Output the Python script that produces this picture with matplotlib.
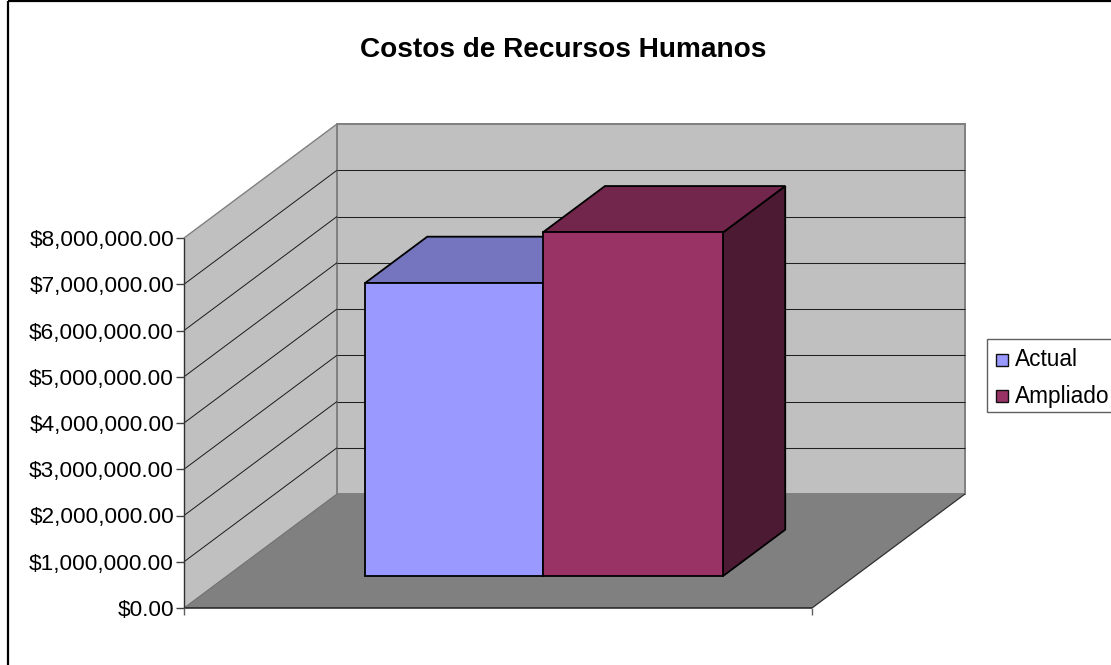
import matplotlib
matplotlib.use("Agg")
import matplotlib.pyplot as plt
from matplotlib.patches import Polygon, Rectangle

TITLE = "Costos de Recursos Humanos"
series_names = ["Actual", "Ampliado"]
series_values = [6335000, 7430000]
series_front = ["#9999FF", "#993366"]
series_top = ["#7575BF", "#72264C"]
series_side = ["#4D4D80", "#4C1A33"]
y_ticks = [0, 1000000, 2000000, 3000000, 4000000, 5000000, 6000000, 7000000, 8000000]
y_max = 8000000

plt.rcParams["font.family"] = ["Liberation Sans", "DejaVu Sans"]
fig = plt.figure(figsize=(11.11, 6.65), dpi=100)
ax = fig.add_axes([0, 0, 1, 1])
ax.set_xlim(0, 1111)
ax.set_ylim(665, 0)
ax.axis("off")

# Oblique projection of the chart box onto the drawing plane
ORIGIN_X, ORIGIN_Y = 184.0, 608.0
BOX_W, BOX_H = 628.0, 370.0
DEPTH_X, DEPTH_Y = 153.0, -114.0


def proj(x, value, depth):
    """x and depth are fractions of the box; value is in dollars."""
    return (ORIGIN_X + x * BOX_W + depth * DEPTH_X,
            ORIGIN_Y - value / y_max * BOX_H + depth * DEPTH_Y)


def face(pts, color, edge=None, lw=0.0, z=1):
    ax.add_patch(Polygon(pts, closed=True, facecolor=color,
                         edgecolor=edge if edge else color, linewidth=lw,
                         joinstyle="miter", zorder=z))


def line(a, b, color, lw, z=3):
    ax.plot([a[0], b[0]], [a[1], b[1]], color=color, lw=lw, zorder=z,
            solid_capstyle="butt")


# Chart frame
line((7.5, 665), (7.5, 0.8), "black", 1.6, 1)
line((7.5, 0.8), (1111, 0.8), "black", 1.6, 1)

# Walls and floor
face([proj(0, 0, 1), proj(1, 0, 1), proj(1, y_max, 1), proj(0, y_max, 1)], "#C0C0C0", "#808080", 1.4, 1)
face([proj(0, 0, 0), proj(0, 0, 1), proj(0, y_max, 1), proj(0, y_max, 0)], "#C0C0C0", z=1)
line(proj(0, 0, 1), proj(0, y_max, 1), "#808080", 1.4, 2)
line(proj(0, y_max, 0), proj(0, y_max, 1), "#808080", 1.0, 2)
face([proj(0, 0, 0), proj(1, 0, 0), proj(1, 0, 1), proj(0, 0, 1)], "#808080", z=2)
line(proj(0, 0, 0), proj(0, 0, 1), "#707070", 0.8, 3)
line(proj(1, 0, 0), proj(1, 0, 1), "#303030", 0.9, 3)
line(proj(0, 0, 0), proj(1, 0, 0), "#202020", 1.1, 3)

# Gridlines, axes and tick labels
for v in y_ticks[1:]:
    if v < y_max:
        line(proj(0, v, 0), proj(0, v, 1), "#1a1a1a", 0.7, 3)
    line(proj(0, v, 1), proj(1, v, 1), "#202020" if v < y_max else "#808080", 0.75, 3)
line(proj(0, 0, 0), proj(0, y_max, 0), "#303030", 1.0, 4)
for v in y_ticks:
    px, py = proj(0, v, 0)
    line((px - 8, py), (px, py), "#404040", 1.0, 4)
    ax.text(px - 10, py, f"${v:,.2f}", ha="right", va="center_baseline",
            fontsize=16.2, color="black", zorder=5)
for xf in (0, 1):
    px, py = proj(xf, 0, 0)
    line((px, py), (px, py + 7), "#606060", 1.0, 4)

# Bars, one after the other along x
BAR_EDGES = [0.22, 0.503, 0.79]
BAR_D0, BAR_D1 = 0.28, 0.687
for i, val in enumerate(series_values):
    x0, x1 = BAR_EDGES[i], BAR_EDGES[i + 1]
    z = 6 + i
    face([proj(x1, 0, BAR_D0), proj(x1, 0, BAR_D1), proj(x1, val, BAR_D1), proj(x1, val, BAR_D0)],
         series_side[i], "black", 1.3, z)
    face([proj(x0, val, BAR_D0), proj(x1, val, BAR_D0), proj(x1, val, BAR_D1), proj(x0, val, BAR_D1)],
         series_top[i], "black", 1.3, z)
    face([proj(x0, 0, BAR_D0), proj(x1, 0, BAR_D0), proj(x1, val, BAR_D0), proj(x0, val, BAR_D0)],
         series_front[i], "black", 1.3, z)

# Title
ax.text(563.5, 47, TITLE, ha="center", va="center_baseline", fontsize=20.2,
        fontweight="bold", color="black", zorder=5)

# Legend box runs off the right side of the canvas
ax.add_patch(Rectangle((986.5, 339), 140, 73, facecolor="white", edgecolor="#606060",
                       linewidth=1.0, zorder=5))
for name, color, sy, ty in zip(series_names, series_front, (353.5, 389.5), (357.5, 393.5)):
    ax.add_patch(Rectangle((995.5, sy), 12, 12, facecolor=color,
                           edgecolor="#101010", linewidth=1.0, zorder=6))
    ax.text(1014.5, ty, name, ha="left", va="center_baseline", fontsize=16.3,
            color="black", zorder=6)

fig.savefig("out.png", dpi=100)
